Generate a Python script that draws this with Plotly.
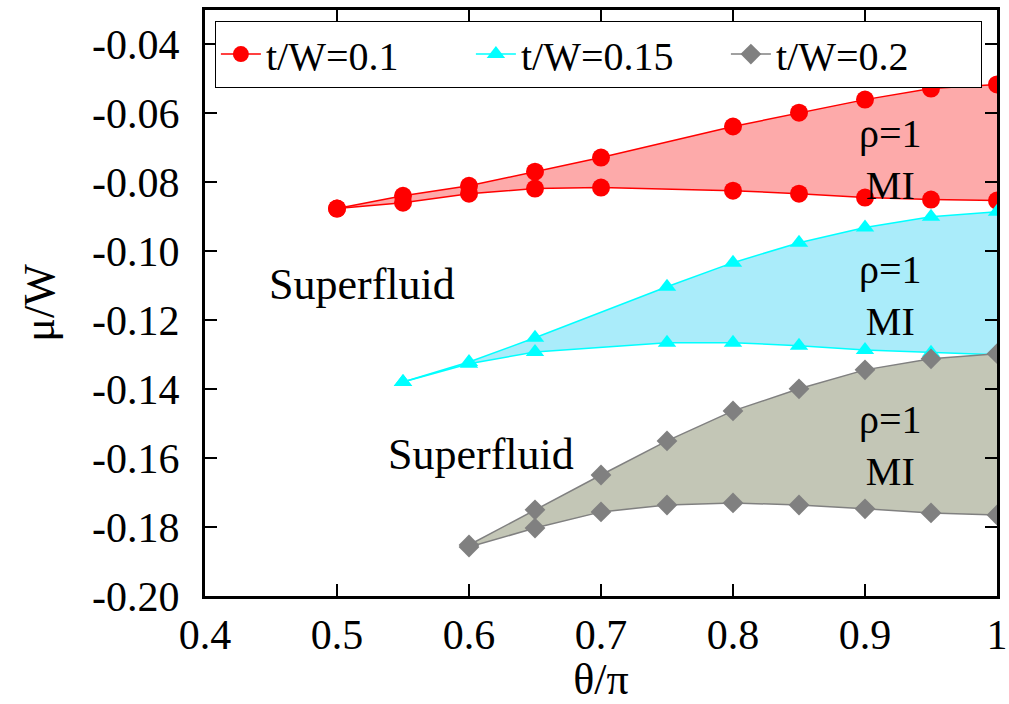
import plotly.graph_objects as go

# t/W = 0.1
x_01 = [0.5, 0.55, 0.6, 0.65, 0.7, 0.8, 0.85, 0.9, 0.95, 1.0]
up_01 = [-0.0876, -0.0839, -0.0810, -0.0769, -0.0728, -0.0638, -0.0598, -0.0560, -0.0528, -0.0516]
lo_01 = [-0.0876, -0.0859, -0.0833, -0.0818, -0.0815, -0.0824, -0.0833, -0.0844, -0.0850, -0.0853]

# t/W = 0.15
x_015 = [0.55, 0.6, 0.65, 0.75, 0.8, 0.85, 0.9, 0.95, 1.0]
up_015 = [-0.1379, -0.1321, -0.1251, -0.1103, -0.1033, -0.0975, -0.0931, -0.0900, -0.0885]
lo_015 = [-0.1379, -0.1326, -0.1292, -0.1265, -0.1265, -0.1274, -0.1286, -0.1294, -0.1300]

# t/W = 0.2
x_02 = [0.6, 0.65, 0.7, 0.75, 0.8, 0.85, 0.9, 0.95, 1.0]
up_02 = [-0.1852, -0.1750, -0.1649, -0.1550, -0.1463, -0.1399, -0.1344, -0.1312, -0.1297]
lo_02 = [-0.1858, -0.1803, -0.1756, -0.1736, -0.1730, -0.1736, -0.1747, -0.1759, -0.1765]

x_ticks = [0.4, 0.5, 0.6, 0.7, 0.8, 0.9, 1.0]
x_ticktext = ["0.4", "0.5", "0.6", "0.7", "0.8", "0.9", "1"]
y_ticks = [-0.20, -0.18, -0.16, -0.14, -0.12, -0.10, -0.08, -0.06, -0.04]
y_ticktext = ["-0.20", "-0.18", "-0.16", "-0.14", "-0.12", "-0.10", "-0.08", "-0.06", "-0.04"]

series = [
    ("t/W=0.1", x_01, up_01, lo_01, "#ff0000", "rgb(253,170,170)", "circle", 18),
    ("t/W=0.15", x_015, up_015, lo_015, "#00ffff", "rgb(170,236,250)", "triangle-up", 16),
    ("t/W=0.2", x_02, up_02, lo_02, "#808080", "rgb(195,198,182)", "diamond", 16),
]

FONT = "Liberation Serif"
fig = go.Figure()
for name, xs, up, lo, col, fillc, sym, ms in series:
    fig.add_trace(go.Scatter(x=xs, y=lo, mode="lines+markers", showlegend=False,
                             line=dict(color=col, width=1.5),
                             marker=dict(symbol=sym, size=ms, color=col)))
    fig.add_trace(go.Scatter(x=xs, y=up, mode="lines+markers", showlegend=False,
                             fill="tonexty", fillcolor=fillc,
                             line=dict(color=col, width=1.5),
                             marker=dict(symbol=sym, size=ms, color=col)))
# legend entries (line + marker sample, like the reference key)
for name, xs, up, lo, col, fillc, sym, ms in series:
    fig.add_trace(go.Scatter(x=[None], y=[None], mode="lines+markers", name=name,
                             line=dict(color=col, width=1.5),
                             marker=dict(symbol=sym, size=ms, color=col)))

annos = [
    (0.919, -0.0735, "ρ=1<br>MI", 40),
    (0.919, -0.1127, "ρ=1<br>MI", 40),
    (0.919, -0.1563, "ρ=1<br>MI", 40),
    (0.519, -0.1097, "Superfluid", 44),
    (0.609, -0.1590, "Superfluid", 44),
]
for ax, ay, t, fs in annos:
    fig.add_annotation(x=ax, y=ay, text=t, showarrow=False,
                       font=dict(family=FONT, size=fs, color="black"))

axis_common = dict(showline=True, linecolor="black", linewidth=3, mirror="ticks",
                   ticks="inside", ticklen=12, tickwidth=2, tickcolor="black",
                   showgrid=False, zeroline=False, automargin=False,
                   ticklabeloverflow="allow",
                   tickfont=dict(family=FONT, size=42, color="black"))

fig.update_xaxes(range=[0.4, 1.0], tickvals=x_ticks, ticktext=x_ticktext,
                 title=dict(text="θ/π", font=dict(family=FONT, size=44, color="black"), standoff=14),
                 **axis_common)
fig.update_yaxes(range=[-0.20, -0.03], tickvals=y_ticks, ticktext=y_ticktext,
                 ticklabelstandoff=14,
                 title=dict(text="μ/W", font=dict(family=FONT, size=44, color="black"), standoff=24),
                 **axis_common)

fig.update_layout(
    width=1009, height=704,
    margin=dict(l=205, r=12, t=10, b=108),
    plot_bgcolor="white", paper_bgcolor="white",
    font=dict(family=FONT, color="black"),
    legend=dict(orientation="h", x=0.0125, y=0.982, xanchor="left", yanchor="top",
                bordercolor="black", borderwidth=1, bgcolor="white", traceorder="normal",
                entrywidth=200, font=dict(family=FONT, size=40, color="black"),
                itemwidth=40, tracegroupgap=0),
)

fig.write_html("out.html")
